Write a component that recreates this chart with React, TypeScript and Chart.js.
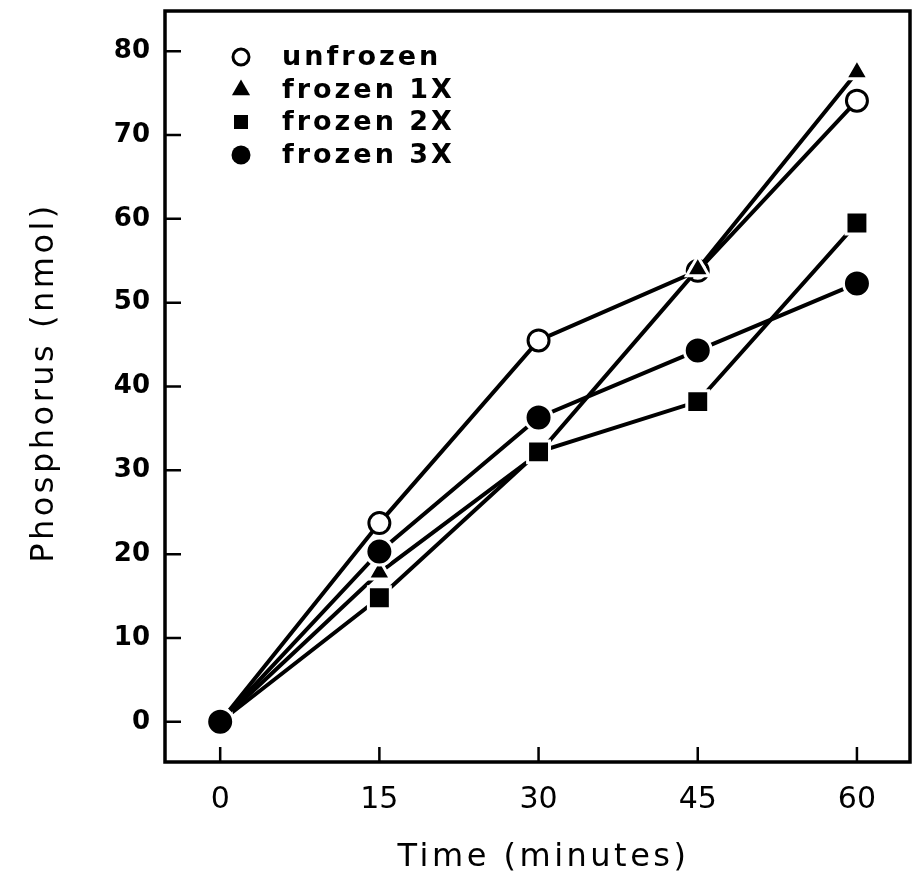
import React, { useEffect, useRef } from 'react';
import { Chart, registerables } from 'chart.js';

Chart.register(...registerables);

const TIMES = [0, 15, 30, 45, 60];
const UNFROZEN = [0, 23.7, 45.5, 53.8, 74.1];
const FROZEN_1X = [0, 17.8, 32.0, 54.0, 77.5];
const FROZEN_2X = [0, 14.8, 32.2, 38.2, 59.5];
const FROZEN_3X = [0, 20.3, 36.3, 44.3, 52.3];
const SERIES_LABELS = ['unfrozen', 'frozen 1X', 'frozen 2X', 'frozen 3X'];
const X_TICKS = [0, 15, 30, 45, 60];
const Y_TICKS = [0, 10, 20, 30, 40, 50, 60, 70, 80];
const X_TITLE = 'Time (minutes)';
const Y_TITLE = 'Phosphorus (nmol)';

const toPoints = (ys: number[]) => TIMES.map((t, i) => ({ x: t, y: ys[i] }));

function drawMarker(ctx: CanvasRenderingContext2D, kind: number, x: number, y: number) {
  ctx.save();
  ctx.fillStyle = '#000';
  ctx.strokeStyle = '#000';
  if (kind === 0) {
    ctx.lineWidth = 3;
    ctx.beginPath();
    ctx.arc(x, y, 8, 0, Math.PI * 2);
    ctx.stroke();
  } else if (kind === 1) {
    const r = 10.5;
    ctx.beginPath();
    ctx.moveTo(x, y - r);
    ctx.lineTo(x + r * 0.866, y + r * 0.5);
    ctx.lineTo(x - r * 0.866, y + r * 0.5);
    ctx.closePath();
    ctx.fill();
  } else if (kind === 2) {
    ctx.fillRect(x - 7, y - 7, 14, 14);
  } else {
    ctx.beginPath();
    ctx.arc(x, y, 9.5, 0, Math.PI * 2);
    ctx.fill();
  }
  ctx.restore();
}

const framePlugin = {
  id: 'frameTicks',
  beforeDatasetsDraw(chart: any) {
    const { ctx, chartArea: a, scales } = chart;
    const x = scales.x;
    const y = scales.y;
    ctx.save();
    ctx.strokeStyle = '#000';
    ctx.lineWidth = 3.5;
    ctx.strokeRect(a.left, a.top, a.right - a.left, a.bottom - a.top);
    ctx.lineWidth = 2.5;
    ctx.beginPath();
    Y_TICKS.forEach((v) => {
      const py = y.getPixelForValue(v);
      ctx.moveTo(a.left, py);
      ctx.lineTo(a.left + 16, py);
    });
    X_TICKS.forEach((v) => {
      const px = x.getPixelForValue(v);
      ctx.moveTo(px, a.bottom);
      ctx.lineTo(px, a.bottom - 15);
    });
    ctx.stroke();
    ctx.restore();
  },
  afterDraw(chart: any) {
    const { ctx, chartArea: a } = chart;
    ctx.save();
    ctx.fillStyle = '#000';
    // legend
    ctx.font = 'bold 27px "DejaVu Sans"';
    (ctx as any).letterSpacing = '3px';
    ctx.textAlign = 'left';
    ctx.textBaseline = 'middle';
    const rows = [57, 90, 122, 155];
    SERIES_LABELS.forEach((lbl, i) => {
      drawMarker(ctx, i, 241, rows[i]);
      ctx.fillText(lbl, 282, rows[i] + 1);
    });
    // axis titles
    ctx.font = '32px "DejaVu Sans"';
    (ctx as any).letterSpacing = '3.5px';
    ctx.textAlign = 'center';
    ctx.fillText(X_TITLE, (a.left + a.right) / 2 + 6, 858);
    ctx.translate(45, (a.top + a.bottom) / 2 - 4);
    ctx.rotate(-Math.PI / 2);
    ctx.fillText(Y_TITLE, 0, 0);
    ctx.restore();
  },
};

export default function App() {
  const ref = useRef<HTMLCanvasElement | null>(null);
  useEffect(() => {
    if (!ref.current) return;
    const common = { borderColor: '#000', borderWidth: 4 };
    const chart = new Chart(ref.current, {
      type: 'line',
      data: {
        datasets: [
          {
            ...common,
            label: SERIES_LABELS[0],
            data: toPoints(UNFROZEN),
            pointStyle: 'circle',
            pointRadius: 10.5,
            pointBackgroundColor: '#fff',
            pointBorderColor: '#000',
            pointBorderWidth: 3,
            order: 3,
          },
          {
            ...common,
            label: SERIES_LABELS[1],
            data: toPoints(FROZEN_1X),
            pointStyle: 'triangle',
            pointRadius: 13,
            pointBackgroundColor: '#000',
            pointBorderColor: '#fff',
            pointBorderWidth: 3,
            order: 2,
          },
          {
            ...common,
            label: SERIES_LABELS[2],
            data: toPoints(FROZEN_2X),
            pointStyle: 'rect',
            pointRadius: 15.5,
            pointBackgroundColor: '#000',
            pointBorderColor: '#fff',
            pointBorderWidth: 3,
            order: 1,
          },
          {
            ...common,
            label: SERIES_LABELS[3],
            data: toPoints(FROZEN_3X),
            pointStyle: 'circle',
            pointRadius: 13.5,
            pointBackgroundColor: '#000',
            pointBorderColor: '#fff',
            pointBorderWidth: 3,
            order: 0,
          },
        ],
      },
      options: {
        animation: false,
        responsive: false,
        devicePixelRatio: 1,
        layout: { autoPadding: false, padding: { top: 11, right: 2, left: 0, bottom: 0 } },
        plugins: { legend: { display: false }, tooltip: { enabled: false } },
        elements: { line: { tension: 0 } },
        scales: {
          x: {
            type: 'linear',
            min: -5.2,
            max: 65,
            grid: { display: false, drawTicks: false },
            border: { display: false },
            afterFit: (s: any) => {
              s.height = 122;
              s.paddingLeft = 0;
              s.paddingRight = 0;
            },
            afterBuildTicks: (s: any) => {
              s.ticks = X_TICKS.map((v) => ({ value: v }));
            },
            ticks: {
              color: '#000',
              padding: 20,
              font: { family: '"DejaVu Sans"', size: 30 },
              callback: (v: any) => String(v),
            },
          },
          y: {
            type: 'linear',
            min: -4.8,
            max: 84.8,
            grid: { display: false, drawTicks: false },
            border: { display: false },
            afterFit: (s: any) => {
              s.width = 165;
              s.paddingTop = 0;
              s.paddingBottom = 0;
            },
            afterBuildTicks: (s: any) => {
              s.ticks = Y_TICKS.map((v) => ({ value: v }));
            },
            ticks: {
              color: '#000',
              padding: 15,
              font: { family: '"DejaVu Sans"', size: 26, weight: 'bold' },
              callback: (v: any) => String(v),
            },
          },
        },
      },
      plugins: [framePlugin],
    } as any);
    return () => chart.destroy();
  }, []);
  return (
    <div style={{ position: 'absolute', left: 0, top: 0, width: 912, height: 884, background: '#fff' }}>
      <canvas ref={ref} width={912} height={884} />
    </div>
  );
}
